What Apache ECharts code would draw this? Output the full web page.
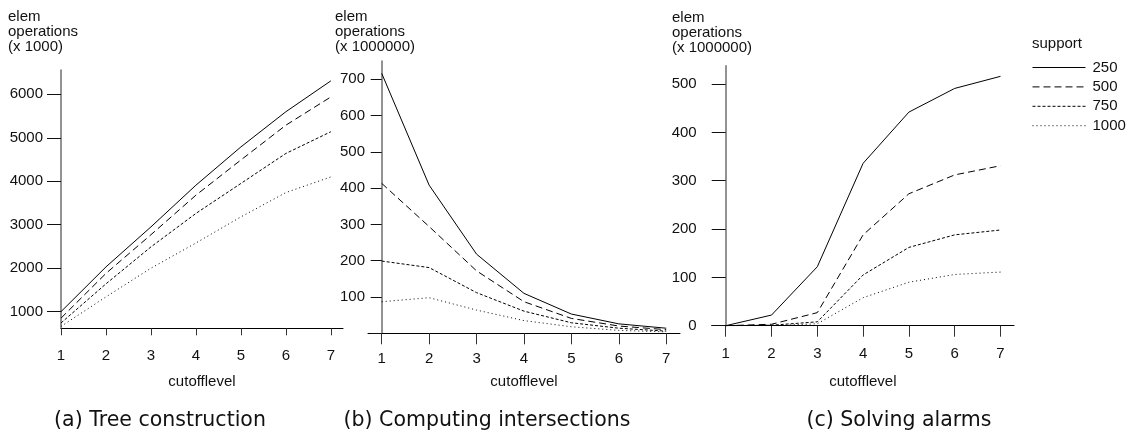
<!DOCTYPE html>
<html lang="en">
<head>
    <meta charset="UTF-8">
    <title>elem operations vs cutofflevel</title>
    <style>
        html, body {
            margin: 0;
            height: 100%;
            width: 100%;
            background: #fff;
        }
        .myEcharts {
            width: 1132px;
            height: 436px;
        }
    </style>
</head>
<body>
    <div id="main" class="myEcharts"></div>
    <script src="https://cdn.jsdelivr.net/npm/echarts@6/dist/echarts.min.js"></script>
    <script>
        // cutoff levels on the x axis
        var levels = [1, 2, 3, 4, 5, 6, 7];
        var supports = ['250', '500', '750', '1000'];

        // (a) tree construction, x 1000
        var tree250 = [1000, 2030, 2950, 3910, 4790, 5600, 6310];
        var tree500 = [850, 1880, 2770, 3680, 4490, 5290, 5940];
        var tree750 = [740, 1640, 2490, 3260, 3950, 4640, 5140];
        var tree1000 = [660, 1340, 2000, 2580, 3180, 3740, 4100];

        // (b) computing intersections, x 1000000
        var inter250 = [716, 408, 218, 110, 53, 26, 14];
        var inter500 = [413, 294, 172, 87, 41, 20, 10];
        var inter750 = [199, 181, 112, 61, 29, 14, 6];
        var inter1000 = [87, 98, 64, 35, 18, 8, 4];

        // (c) solving alarms, x 1000000
        var alarm250 = [0, 22, 122, 336, 442, 491, 516];
        var alarm500 = [0, 3, 27, 188, 273, 312, 331];
        var alarm750 = [0, 1, 8, 105, 162, 188, 198];
        var alarm1000 = [0, 0, 4, 58, 90, 106, 111];

        var treeTicks = [1000, 2000, 3000, 4000, 5000, 6000];
        var interTicks = [0, 100, 200, 300, 400, 500, 600, 700];
        var interLabels = [100, 200, 300, 400, 500, 600, 700];
        var alarmTicks = [0, 100, 200, 300, 400, 500];

        var font = 'Liberation Sans';
        var capFont = 'DejaVu Sans';
        var dashes = {'250': 'solid', '500': [7, 4], '750': [3, 2], '1000': [1, 3]};

        // x is shifted so that level 1 sits on 0 and the y axis can use onZero
        function pts(arr) {
            return arr.map(function (v, i) { return [levels[i] - 1, v]; });
        }
        var xTicks = levels.map(function (l) { return l - 1; });

        function xAxisOf(idx, min, max, tickLen, labelMargin, nameGap) {
            return {
                gridIndex: idx,
                type: 'value',
                min: min,
                max: max,
                name: 'cutofflevel',
                nameLocation: 'middle',
                nameGap: nameGap,
                nameTextStyle: {fontFamily: font, fontSize: 15, color: '#111'},
                axisLine: {lineStyle: {color: '#000', width: 1}},
                axisTick: {customValues: xTicks, length: tickLen, lineStyle: {color: '#333'}},
                axisLabel: {
                    customValues: xTicks,
                    margin: labelMargin,
                    fontFamily: font, fontSize: 15, color: '#111',
                    formatter: function (v) { return String(v + 1); }
                },
                splitLine: {show: false}
            };
        }

        function yAxisOf(idx, min, max, ticks, labels, tickLen, labelMargin) {
            return {
                gridIndex: idx,
                type: 'value',
                min: min,
                max: max,
                axisLine: {onZero: true, lineStyle: {color: '#777', width: 1.6}},
                axisTick: {customValues: ticks, length: tickLen, lineStyle: {color: '#111', width: 1}},
                axisLabel: {
                    customValues: labels,
                    margin: labelMargin,
                    fontFamily: font, fontSize: 15, color: '#111',
                    formatter: function (v) { return String(v); }
                },
                splitLine: {show: false}
            };
        }

        var series = [];
        [[tree250, tree500, tree750, tree1000],
         [inter250, inter500, inter750, inter1000],
         [alarm250, alarm500, alarm750, alarm1000]].forEach(function (group, gi) {
            group.forEach(function (arr, si) {
                series.push({
                    name: supports[si],
                    type: 'line',
                    xAxisIndex: gi,
                    yAxisIndex: gi,
                    data: pts(arr),
                    symbol: 'none',
                    itemStyle: {color: '#000'},
                    lineStyle: {color: '#000', width: 1, type: dashes[supports[si]]},
                    silent: true
                });
            });
        });

        function label(text, x, y) {
            return {
                text: text,
                left: x,
                top: y,
                padding: 0,
                textStyle: {fontFamily: font, fontSize: 15, fontWeight: 'normal', color: '#111', lineHeight: 15}
            };
        }
        function caption(text, x) {
            return {
                text: text,
                left: x,
                top: 410,
                padding: 0,
                textAlign: 'center',
                textStyle: {fontFamily: capFont, fontSize: 20.5, fontWeight: 'normal', color: '#111'}
            };
        }

        var myCharts = echarts.init(document.getElementById('main'), null, {renderer: 'canvas'});
        var option = {
            animation: false,
            backgroundColor: '#fff',
            title: [
                label('elem\noperations\n(x 1000)', 8, 9),
                label('elem\noperations\n(x 1000000)', 335, 9),
                label('elem\noperations\n(x 1000000)', 672, 10),
                label('support', 1032, 36),
                caption('(a) Tree construction', 160),
                caption('(b) Computing intersections', 487),
                caption('(c) Solving alarms', 899)
            ],
            legend: {
                data: supports,
                orient: 'vertical',
                left: 1032,
                top: 60,
                padding: 0,
                itemWidth: 53,
                itemHeight: 12,
                itemGap: 4.4,
                itemStyle: {color: 'rgba(0,0,0,0)', borderWidth: 0},
                lineStyle: {width: 1, color: '#000'},
                textStyle: {fontFamily: font, fontSize: 15, color: '#111', padding: [0, 0, 0, 2]},
                selectedMode: false
            },
            grid: [
                {left: 61, top: 70, width: 282, height: 258.3, outerBoundsMode: 'none'},
                {left: 368, top: 61, width: 312, height: 272.3, outerBoundsMode: 'none'},
                {left: 711.7, top: 65.7, width: 302.3, height: 260, outerBoundsMode: 'none'}
            ],
            xAxis: [
                xAxisOf(0, 0, 6.27, 7, 20, 46),
                xAxisOf(1, -0.289, 6.29, 11, 18, 41),
                xAxisOf(2, -0.306, 6.295, 11, 21, 49)
            ],
            yAxis: [
                yAxisOf(0, 617, 6560, treeTicks, treeTicks, 14, 18),
                yAxisOf(1, 0, 750, interTicks, interLabels, 11, 3),
                yAxisOf(2, 0, 538, alarmTicks, alarmTicks, 14, 15)
            ],
            series: series
        };
        myCharts.setOption(option);
    </script>
</body>
</html>
